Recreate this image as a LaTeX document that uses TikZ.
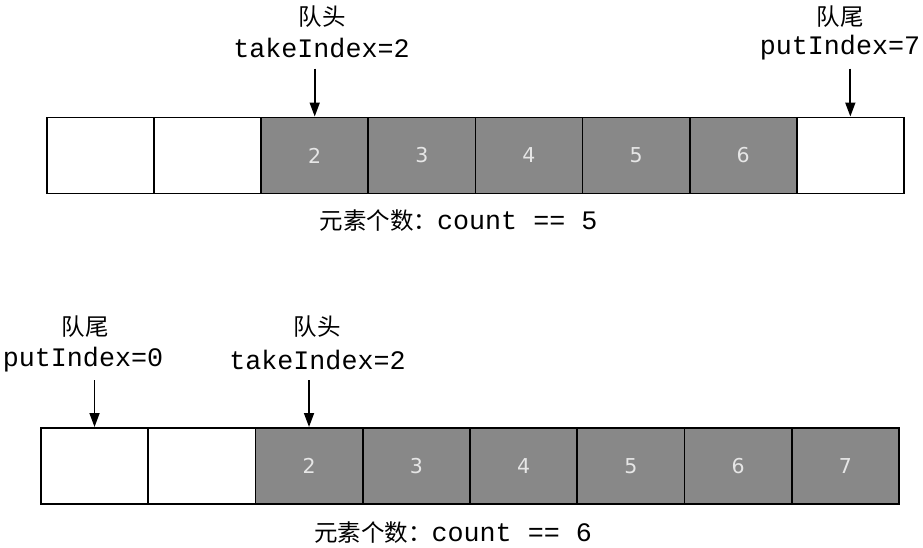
\documentclass[tikz,border=0pt]{standalone}
\usepackage{fontspec}
\newfontfamily\monof{Liberation Mono}
\newfontfamily\cjkf{Noto Sans CJK SC}
\newfontfamily\sansf{DejaVu Sans}
\usetikzlibrary{arrows.meta}
\definecolor{cellgray}{HTML}{888888}
\definecolor{numgray}{HTML}{E6E6E6}
\begin{document}
\begin{tikzpicture}[x=1pt,y=-1pt,
  cellbox/.style={draw=black,line width=1.8pt,minimum height=76pt,inner sep=0pt,anchor=north west,font=\sansf\fontsize{20.5}{21}\selectfont,text=numgray},
  full/.style={cellbox,fill=cellgray},
  empty/.style={cellbox,fill=white},
  monolabel/.style={font=\monof\fontsize{26.7}{28}\selectfont,inner sep=0pt},
  cjklabel/.style={font=\cjkf\fontsize{23.5}{24}\selectfont,inner sep=0pt},
  countlabel/.style={inner sep=0pt},
  ptr/.style={line width=1.7pt,-{Triangle[length=14pt,width=10pt]}}]
\useasboundingbox (0,0) rectangle (923,547);
% top row
\foreach \i/\t/\s in {0//empty,1//empty,2/2/full,3/3/full,4/4/full,5/5/full,6/6/full,7//empty}{
  \node[\s,minimum width=107.125pt] (t\i) at ({46+107.125*\i},116.5) {\t};
}
% bottom row
\foreach \i/\t/\s in {0//empty,1//empty,2/2/full,3/3/full,4/4/full,5/5/full,6/6/full,7/7/full}{
  \node[\s,minimum width=107.25pt] (b\i) at ({40+107.25*\i},427) {\t};
}
% top labels
\node[cjklabel] (th1) at (322,17) {队头};
\node[monolabel] (tk1) at (321.5,48) {takeIndex=2};
\node[cjklabel] (tt1) at (840,17) {队尾};
\node[monolabel] (pt1) at (840,48) {putIndex=7};
% bottom labels
\node[cjklabel] (bt1) at (85,327) {队尾};
\node[monolabel] (pb1) at (83,360) {putIndex=0};
\node[cjklabel] (bh1) at (317,327) {队头};
\node[monolabel] (tb1) at (317.5,360) {takeIndex=2};
% arrows
\coordinate (a1) at ([yshift=48pt]t2.north);
\coordinate (a2) at ([yshift=48pt]t7.north);
\coordinate (a3) at ([yshift=47pt]b0.north);
\coordinate (a4) at ([yshift=47pt]b2.north);
\draw[ptr] (a1) -- (t2.north);
\draw[ptr] (a2) -- (t7.north);
\draw[ptr] (a3) -- (b0.north);
\draw[ptr] (a4) -- (b2.north);
% counts
\node[countlabel] (c1) at (458.5,221) {{\cjkf\fontsize{23.5}{24}\selectfont 元素个数：}{\monof\fontsize{26.7}{28}\selectfont count == 5}};
\node[countlabel] (c2) at (453,533) {{\cjkf\fontsize{23.5}{24}\selectfont 元素个数：}{\monof\fontsize{26.7}{28}\selectfont count == 6}};
\end{tikzpicture}
\end{document}
